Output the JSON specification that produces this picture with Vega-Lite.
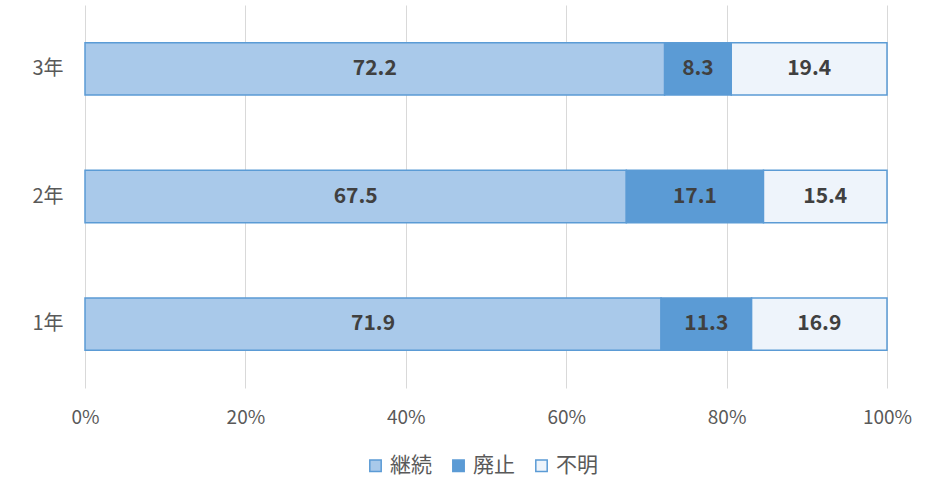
{
  "$schema": "https://vega.github.io/schema/vega-lite/v6.json",
  "width": 802,
  "height": 383,
  "autosize": {"type": "none"},
  "padding": {"left": 85, "top": 5, "right": 47, "bottom": 98},
  "background": "white",
  "config": {
    "font": "Noto Sans CJK JP",
    "view": {"stroke": null},
    "axis": {"labelColor": "#595959", "labelFontSize": 19, "titleFontSize": 15}
  },
  "data": {
    "values": [
      {"year": "3年", "cat": "継続", "k": 1, "v": 72.2},
      {"year": "3年", "cat": "廃止", "k": 2, "v": 8.3},
      {"year": "3年", "cat": "不明", "k": 3, "v": 19.4},
      {"year": "2年", "cat": "継続", "k": 1, "v": 67.5},
      {"year": "2年", "cat": "廃止", "k": 2, "v": 17.1},
      {"year": "2年", "cat": "不明", "k": 3, "v": 15.4},
      {"year": "1年", "cat": "継続", "k": 1, "v": 71.9},
      {"year": "1年", "cat": "廃止", "k": 2, "v": 11.3},
      {"year": "1年", "cat": "不明", "k": 3, "v": 16.9}
    ]
  },
  "transform": [
    {"stack": "v", "groupby": ["year"], "sort": [{"field": "k", "order": "ascending"}], "as": ["v0", "v1"], "offset": "normalize"},
    {"calculate": "(datum.v0 + datum.v1) / 2", "as": "mid"}
  ],
  "encoding": {
    "y": {
      "field": "year", "type": "nominal", "sort": ["3年", "2年", "1年"],
      "scale": {"paddingInner": 0.59, "paddingOuter": 0.295},
      "axis": {"title": null, "domain": false, "ticks": false, "labelPadding": 22, "labelFontSize": 20}
    }
  },
  "layer": [
    {
      "mark": {"type": "bar", "stroke": "#5b9bd5", "strokeWidth": 1.5},
      "encoding": {
        "x": {
          "field": "v0", "type": "quantitative", "scale": {"domain": [0, 1], "nice": false},
          "axis": {"title": null, "format": "%", "values": [0, 0.2, 0.4, 0.6, 0.8, 1], "domain": false, "ticks": false, "gridColor": "#d9d9d9", "gridWidth": 1, "labelPadding": 20, "labelFlush": false}
        },
        "x2": {"field": "v1"},
        "color": {
          "field": "cat", "type": "nominal",
          "scale": {"domain": ["継続", "廃止", "不明"], "range": ["#a9c9ea", "#5b9bd5", "#eef4fb"]},
          "legend": {
            "title": null, "orient": "none", "direction": "horizontal",
            "legendX": 280, "legendY": 450,
            "symbolType": "square", "symbolSize": 130, "symbolStrokeColor": "#5b9bd5", "symbolStrokeWidth": 1.5, "symbolOpacity": 1,
            "labelFontSize": 21, "labelColor": "#595959", "columnPadding": 16, "labelOffset": 4
          }
        }
      }
    },
    {
      "mark": {"type": "text", "fontWeight": "bold", "fontSize": 21, "color": "#404040"},
      "encoding": {
        "x": {"field": "mid", "type": "quantitative"},
        "text": {"field": "v", "type": "quantitative", "format": ".1f"}
      }
    }
  ]
}
